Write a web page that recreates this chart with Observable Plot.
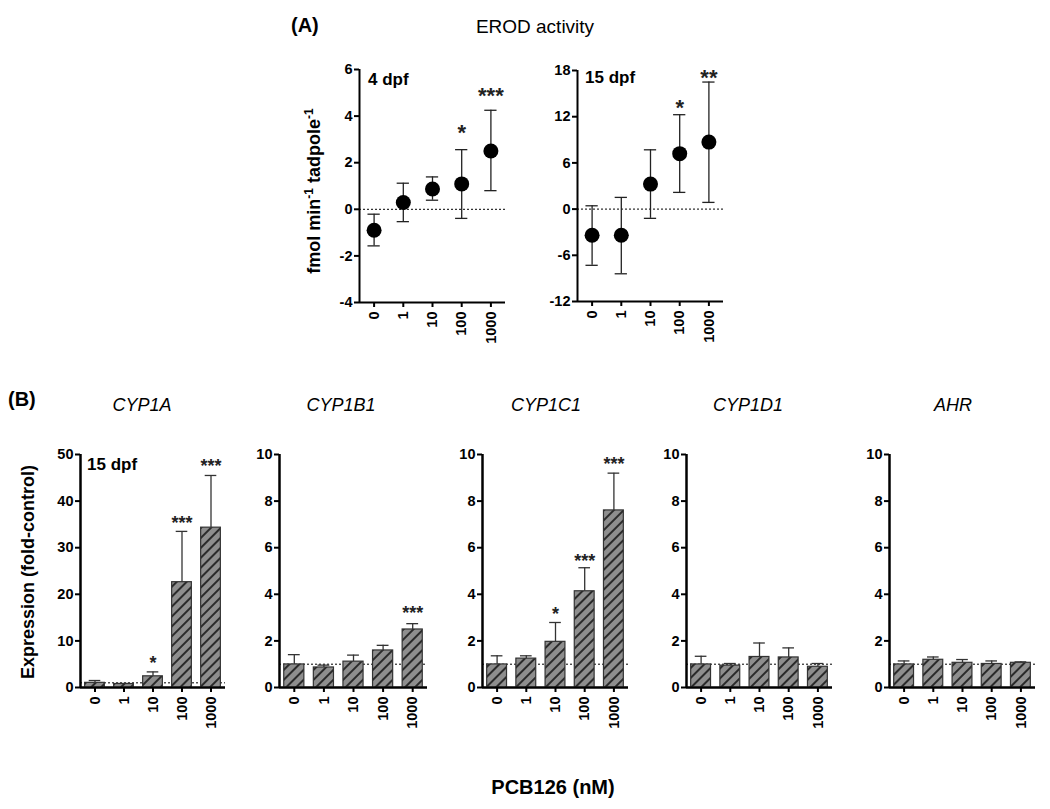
<!DOCTYPE html>
<html><head><meta charset="utf-8">
<script src="https://cdn.jsdelivr.net/npm/d3@7"></script>
<script src="https://cdn.jsdelivr.net/npm/@observablehq/plot@0.6"></script>
<style>
body{margin:0;background:#fff;font-family:"Liberation Sans",Arial,sans-serif;}
#wrap{position:relative;width:1050px;height:809px;overflow:hidden;background:#fff;}
.lbl{position:absolute;white-space:nowrap;color:#000;line-height:1;}
.pbox{position:absolute;}
#wrap svg g[aria-label="x-axis tick label"] text{font-size:14.5px;font-weight:bold;}
#wrap svg g[aria-label="y-axis tick label"] text{font-size:14.5px;font-weight:bold;}
</style></head><body>
<svg width="0" height="0" style="position:absolute">
  <defs>
    <pattern id="hatch" patternUnits="userSpaceOnUse" width="7" height="7" patternTransform="rotate(45)">
      <rect width="7" height="7" fill="#8e8e8e"></rect>
      <line x1="1" y1="0" x2="1" y2="7" stroke="#111" stroke-width="1.6"></line>
    </pattern>
  </defs>
</svg>
<div id="wrap"></div>
<script>
// ---------- data ----------
const doses = ["0", "1", "10", "100", "1000"];

// Panel A: EROD activity (fmol/min/tadpole)
const erod4Mean  = [-0.9, 0.29, 0.87, 1.09, 2.5];
const erod4Low   = [-1.57, -0.53, 0.39, -0.39, 0.8];
const erod4High  = [-0.21, 1.12, 1.39, 2.56, 4.25];
const erod4Stars = ["", "", "", "*", "***"];
const erod4StarY = [null, null, null, 3.5, 5.08];

const erod15Mean  = [-3.4, -3.4, 3.25, 7.2, 8.7];
const erod15Low   = [-7.3, -8.4, -1.2, 2.17, 0.87];
const erod15High  = [0.43, 1.52, 7.7, 12.26, 16.5];
const erod15Stars = ["", "", "", "*", "**"];
const erod15StarY = [null, null, null, 13.8, 17.7];

// Panel B: expression (fold-control)
const genes = ["CYP1A", "CYP1B1", "CYP1C1", "CYP1D1", "AHR"];
const cyp1aMean = [1.0, 0.75, 2.4, 22.6, 34.3];
const cyp1aHigh = [1.5, 0.85, 3.35, 33.5, 45.5];
const cyp1aStars = ["", "", "*", "***", "***"];
const cyp1aStarY = [null, null, 6.0, 36.2, 48.4];

const cyp1b1Mean = [0.99, 0.86, 1.11, 1.59, 2.49];
const cyp1b1High = [1.41, 0.96, 1.39, 1.81, 2.74];
const cyp1b1Stars = ["", "", "", "", "***"];
const cyp1b1StarY = [null, null, null, null, 3.37];

const cyp1c1Mean = [0.99, 1.24, 1.96, 4.13, 7.6];
const cyp1c1High = [1.36, 1.36, 2.79, 5.14, 9.2];
const cyp1c1Stars = ["", "", "*", "***", "***"];
const cyp1c1StarY = [null, null, 3.3, 5.6, 9.77];

const cyp1d1Mean = [0.99, 0.94, 1.31, 1.29, 0.89];
const cyp1d1High = [1.34, 1.03, 1.91, 1.7, 1.03];

const ahrMean = [0.99, 1.19, 1.06, 1.01, 1.06];
const ahrHigh = [1.14, 1.31, 1.2, 1.14, 1.1];

const ticksA4 = [-4, -2, 0, 2, 4, 6];
const ticksA15 = [-12, -6, 0, 6, 12, 18];
const ticksB50 = [0, 10, 20, 30, 40, 50];
const ticksB10 = [0, 2, 4, 6, 8, 10];

// ---------- helpers ----------
const wrap = document.getElementById("wrap");
const FONT = "Liberation Sans, Arial, Helvetica, sans-serif";

function label(html, left, top, css) {
  const d = document.createElement("div");
  d.className = "lbl";
  d.innerHTML = html;
  d.style.left = left + "px";
  d.style.top = top + "px";
  Object.assign(d.style, css || {});
  wrap.appendChild(d);
  return d;
}
function box(node, left, top) {
  const d = document.createElement("div");
  d.className = "pbox";
  d.style.left = left + "px";
  d.style.top = top + "px";
  d.appendChild(node);
  wrap.appendChild(d);
}

const plotStyle = {background: "transparent", fontFamily: FONT, fontSize: "14px", fontWeight: "bold", color: "#000", overflow: "visible"};

function commonAxes(yTicks, yDomain, refY) {
  return [
    Plot.ruleY([refY], {stroke: "#000", strokeWidth: 1, strokeDasharray: "2,2"}),
    Plot.axisY({ticks: yTicks, tickFormat: d => String(d), tickSize: 5, tickPadding: 2, strokeWidth: 2, label: null,
                fontSize: 14.5, fontWeight: "bold"}),
    Plot.axisX({ticks: [0, 1, 2, 3, 4], tickFormat: i => doses[i], tickRotate: -90, tickSize: 5, tickPadding: 4,
                strokeWidth: 2, label: null, fontSize: 14.5, fontWeight: "bold"}),
    Plot.ruleX([-0.5], {stroke: "#000", strokeWidth: 2}),
    Plot.ruleY([yDomain[0]], {stroke: "#000", strokeWidth: 2})
  ];
}

function erodPlot(mean, low, high, stars, starY, yDomain, yTicks, geo) {
  const data = doses.map((d, i) => ({i, mean: mean[i], low: low[i], high: high[i], star: stars[i], sy: starY[i]}));
  return Plot.plot({
    width: geo.width, height: geo.height,
    marginLeft: geo.ml, marginRight: geo.mr, marginTop: geo.mt, marginBottom: geo.mb,
    style: plotStyle,
    x: {domain: [-0.5, 4.5]},
    y: {domain: yDomain},
    marks: [
      ...commonAxes(yTicks, yDomain, 0),
      Plot.ruleX(data, {x: "i", y1: "low", y2: "high", stroke: "#222", strokeWidth: 1.3}),
      Plot.ruleY(data, {y: "high", x1: d => d.i - 0.21, x2: d => d.i + 0.21, stroke: "#222", strokeWidth: 1.3}),
      Plot.ruleY(data, {y: "low", x1: d => d.i - 0.21, x2: d => d.i + 0.21, stroke: "#222", strokeWidth: 1.3}),
      Plot.dot(data, {x: "i", y: "mean", r: 7.5, fill: "#000", stroke: "none"}),
      Plot.text(data.filter(d => d.star), {x: "i", y: "sy", text: "star", fontSize: 22, fontWeight: "bold", lineAnchor: "middle", dy: 5, fill: "#222"})
    ]
  });
}

function barPlot(mean, high, stars, starY, yDomain, yTicks, geo) {
  const data = doses.map((d, i) => ({i, mean: mean[i], high: high[i], star: stars ? stars[i] : "", sy: starY ? starY[i] : null}));
  return Plot.plot({
    width: geo.width, height: geo.height,
    marginLeft: geo.ml, marginRight: geo.mr, marginTop: geo.mt, marginBottom: geo.mb,
    style: plotStyle,
    x: {domain: [-0.5, 4.5]},
    y: {domain: yDomain},
    marks: [
      ...commonAxes(yTicks, yDomain, 1),
      Plot.ruleX(data, {x: "i", y1: "mean", y2: "high", stroke: "#333", strokeWidth: 1.3}),
      Plot.ruleY(data, {y: "high", x1: d => d.i - 0.2, x2: d => d.i + 0.2, stroke: "#333", strokeWidth: 1.3}),
      Plot.rectY(data, {x1: d => d.i - 0.34, x2: d => d.i + 0.34, y1: 0, y2: "mean", fill: "url(#hatch)", stroke: "#333", strokeWidth: 1.2}),
      Plot.text(data.filter(d => d.star), {x: "i", y: "sy", text: "star", fontSize: 18, fontWeight: "bold", lineAnchor: "middle", dy: 4, fill: "#222"}),
      Plot.ruleX([-0.5], {stroke: "#000", strokeWidth: 2}),
      Plot.ruleY([yDomain[0]], {stroke: "#000", strokeWidth: 2})
    ]
  });
}

// ---------- Panel A ----------
box(erodPlot(erod4Mean, erod4Low, erod4High, erod4Stars, erod4StarY, [-4, 6], ticksA4,
  {width: 205, height: 300, ml: 49, mr: 10, mt: 19, mb: 48}), 310, 50);
box(erodPlot(erod15Mean, erod15Low, erod15High, erod15Stars, erod15StarY, [-12, 18], ticksA15,
  {width: 203, height: 300, ml: 47, mr: 10, mt: 20, mb: 49}), 530, 50);

label("(A)", 291, 15, {fontSize: "20px", fontWeight: "bold"});
label("EROD activity", 535, 17, {fontSize: "19px", transform: "translateX(-50%)"});
label("4 dpf", 368, 71, {fontSize: "17px", fontWeight: "bold"});
label("15 dpf", 585, 69, {fontSize: "17px", fontWeight: "bold"});
label("fmol min<sup style='font-size:12px;vertical-align:7px'>-1</sup> tadpole<sup style='font-size:12px;vertical-align:7px'>-1</sup>",
  313, 191, {fontSize: "18px", fontWeight: "bold", transform: "translate(-50%,-50%) rotate(-90deg)"});

// ---------- Panel B ----------
const geoB = (ml, axisX, endX, left) => ({width: endX - left + 10, height: 297, ml, mr: 10, mt: 14, mb: 50});
box(barPlot(cyp1aMean, cyp1aHigh, cyp1aStars, cyp1aStarY, [0, 50], ticksB50, geoB(40, 80, 225, 40)), 40, 440);
box(barPlot(cyp1b1Mean, cyp1b1High, cyp1b1Stars, cyp1b1StarY, [0, 10], ticksB10, geoB(34, 279, 427, 245)), 245, 440);
box(barPlot(cyp1c1Mean, cyp1c1High, cyp1c1Stars, cyp1c1StarY, [0, 10], ticksB10, geoB(37, 482, 628, 445)), 445, 440);
box(barPlot(cyp1d1Mean, cyp1d1High, null, null, [0, 10], ticksB10, geoB(36, 686, 832, 650)), 650, 440);
box(barPlot(ahrMean, ahrHigh, null, null, [0, 10], ticksB10, geoB(39, 889, 1035, 850)), 850, 440);

label("(B)", 8, 389, {fontSize: "20px", fontWeight: "bold"});
const geneX = [142, 341, 546, 748, 953];
genes.forEach((g, i) => label(g, geneX[i], 396, {fontSize: "18px", fontStyle: "italic", transform: "translateX(-50%)"}));
label("15 dpf", 87, 456, {fontSize: "17px", fontWeight: "bold"});
label("Expression (fold-control)", 28, 572, {fontSize: "18px", fontWeight: "bold", transform: "translate(-50%,-50%) rotate(-90deg)"});
label("PCB126 (nM)", 553, 777, {fontSize: "20px", fontWeight: "bold", transform: "translateX(-50%)"});
</script>
</body></html>
